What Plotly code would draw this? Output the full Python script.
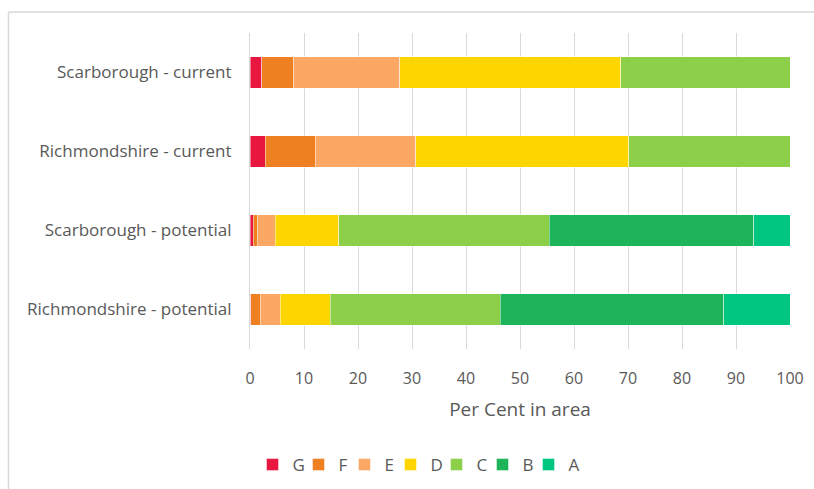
import plotly.graph_objects as go

# Energy-rating bands, stacked left to right (worst to best)
categories = [
    "Scarborough - current",
    "Richmondshire - current",
    "Scarborough - potential",
    "Richmondshire - potential",
]
bands = ["G", "F", "E", "D", "C", "B", "A"]

band_G = [2.2, 2.8, 0.6, 0.1]
band_F = [5.9, 9.3, 0.7, 1.8]
band_E = [19.6, 18.6, 3.4, 3.7]
band_D = [41.0, 39.4, 11.7, 9.3]
band_C = [31.3, 29.9, 39.0, 31.4]
band_B = [0.0, 0.0, 37.9, 41.4]
band_A = [0.0, 0.0, 6.7, 12.3]

band_values = [band_G, band_F, band_E, band_D, band_C, band_B, band_A]
band_colors = ["#E8173F", "#EE8022", "#FCA864", "#FFD500", "#8ECF4A", "#1DB45A", "#00C680"]

x_ticks = list(range(0, 101, 10))

FONT = "Open Sans"
TEXT = "#595959"
GRID = "#D9D9D9"

fig = go.Figure()
for i, (name, vals, col) in enumerate(zip(bands, band_values, band_colors)):
    last = i == len(bands) - 1
    fig.add_trace(go.Bar(
        y=categories,
        x=vals,
        name=name,
        orientation="h",
        marker=dict(color=col, line=dict(color="rgba(255,255,255,0.6)", width=0.75)),
        hoverinfo="x+name",
        # compact legend entries; the final entry keeps room for its label
        legendwidth=14 if last else 1,
    ))

W, H = 814, 489
ml, mr, mt, mb = 250, 24, 33, 140
pw = W - ml - mr
ph = H - mt - mb


def px_x(px):
    return (px - ml) / pw


def px_y(py):
    return (H - mb - py) / ph


fig.update_layout(
    width=W,
    height=H,
    autosize=False,
    margin=dict(l=ml, r=mr, t=mt, b=mb, pad=0, autoexpand=False),
    barmode="stack",
    bargap=0.6,
    plot_bgcolor="white",
    paper_bgcolor="white",
    font=dict(family=FONT, size=16, color=TEXT),
    showlegend=True,
    legend=dict(
        orientation="h",
        traceorder="normal",
        x=px_x(420),
        xanchor="center",
        y=px_y(465),
        yanchor="middle",
        font=dict(family=FONT, size=17, color=TEXT),
        itemwidth=30,
        entrywidthmode="pixels",
        bgcolor="rgba(0,0,0,0)",
    ),
    xaxis=dict(
        range=[0, 100],
        tickvals=x_ticks,
        ticktext=[str(t) for t in x_ticks],
        showgrid=True,
        gridcolor=GRID,
        gridwidth=1,
        zeroline=False,
        showline=False,
        ticks="",
        ticklabelstandoff=18,
        tickfont=dict(family=FONT, size=16, color=TEXT),
        title=dict(text="Per Cent in area", font=dict(family=FONT, size=19, color=TEXT), standoff=14),
        automargin=False,
        fixedrange=True,
    ),
    yaxis=dict(
        autorange="reversed",
        showgrid=False,
        zeroline=False,
        showline=True,
        linecolor=GRID,
        linewidth=1,
        ticks="",
        ticklabelstandoff=14,
        tickfont=dict(family=FONT, size=17, color=TEXT),
        automargin=False,
        fixedrange=True,
    ),
    shapes=[
        # chart frame: top and left edges
        dict(type="line", xref="paper", yref="paper", layer="below",
             x0=px_x(8.5), x1=px_x(W + 5), y0=px_y(12), y1=px_y(12),
             line=dict(color=GRID, width=1.5)),
        dict(type="line", xref="paper", yref="paper", layer="below",
             x0=px_x(8.5), x1=px_x(8.5), y0=px_y(12), y1=px_y(H + 5),
             line=dict(color=GRID, width=1.5)),
    ],
)

fig.write_html("out.html")
